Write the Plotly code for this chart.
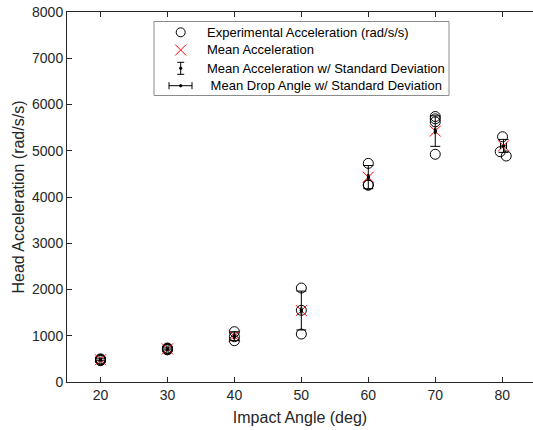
import plotly.graph_objects as go

# ---------------- data ----------------
exp_angle = [20, 20, 20, 20, 20,
             30, 30, 30, 30, 30,
             40, 40, 40,
             50, 50, 50,
             60, 60, 60,
             70, 70, 70, 70,
             80.05, 79.7, 80.6]
exp_accel = [500, 490, 480, 470, 462,
             735, 725, 715, 705, 695,
             1088, 979, 893,
             2032, 1550, 1037,
             4727, 4265, 4255,
             5740, 5690, 5625, 4924,
             5303, 4980, 4886]

mean_angle = [20, 30, 40, 50, 60, 70, 80.2]
mean_accel = [480, 715, 990, 1545, 4430, 5425, 5105]
std_accel = [20, 20, 95, 420, 250, 330, 140]
std_angle = [0.1, 0.1, 0.1, 0.1, 0.1, 0.1, 0.45]

x_ticks = [20, 30, 40, 50, 60, 70, 80]
y_ticks = [0, 1000, 2000, 3000, 4000, 5000, 6000, 7000, 8000]

legend_labels = ["Experimental Acceleration (rad/s/s)",
                 "Mean Acceleration",
                 "Mean Acceleration w/ Standard Deviation",
                 " Mean Drop Angle w/ Standard Deviation"]

FONT = "Liberation Sans, Arial, sans-serif"
AX = "#262626"

W, H = 533, 430
ML, MR, MT, MB = 67, 0, 12, 48
PW, PH = W - ML - MR, H - MT - MB


def px(x):
    return (x - ML) / PW


def py(y):
    return (H - MB - y) / PH


fig = go.Figure()

fig.add_trace(go.Scatter(
    x=exp_angle, y=exp_accel, mode="markers",
    marker=dict(symbol="circle-open", size=10, color="black", line=dict(width=1, color="black")),
    showlegend=False))

fig.add_trace(go.Scatter(
    x=mean_angle, y=mean_accel, mode="markers",
    marker=dict(symbol="x-thin-open", size=11, color="red", line=dict(width=1, color="red")),
    showlegend=False))

fig.add_trace(go.Scatter(
    x=mean_angle, y=mean_accel, mode="markers",
    marker=dict(symbol="circle", size=3, color="black"),
    error_y=dict(type="data", array=std_accel, visible=True, color="black", thickness=1, width=5),
    showlegend=False))

fig.add_trace(go.Scatter(
    x=mean_angle, y=mean_accel, mode="markers",
    marker=dict(symbol="circle", size=3, color="black"),
    error_x=dict(type="data", array=std_angle, visible=True, color="black", thickness=1, width=3),
    showlegend=False))

# ---------------- manual legend ----------------
shapes = []
annotations = []
lx0, ly0, lx1, ly1 = 154, 21.5, 449, 95.5
shapes.append(dict(type="rect", xref="paper", yref="paper",
                   x0=px(lx0), x1=px(lx1), y0=py(ly1), y1=py(ly0),
                   line=dict(color="#8c8c8c", width=1), fillcolor="white", layer="above"))
rows = [32.3, 50.0, 68.3, 85.7]
sx = 180.7
# row 1: open circle
shapes.append(dict(type="circle", xref="paper", yref="paper",
                   x0=px(sx - 4.5), x1=px(sx + 4.5), y0=py(rows[0] + 4.5), y1=py(rows[0] - 4.5),
                   line=dict(color="black", width=1), layer="above"))
# row 2: red x
d = 5.5
for a, b in [(-d, -d), (-d, d)]:
    shapes.append(dict(type="line", xref="paper", yref="paper",
                       x0=px(sx + a), x1=px(sx - a), y0=py(rows[1] + b), y1=py(rows[1] - b),
                       line=dict(color="red", width=1), layer="above"))
# row 3: vertical error bar
r3 = rows[2]
shapes.append(dict(type="line", xref="paper", yref="paper",
                   x0=px(sx), x1=px(sx), y0=py(r3 - 6), y1=py(r3 + 6),
                   line=dict(color="black", width=1), layer="above"))
for yy in (r3 - 6, r3 + 6):
    shapes.append(dict(type="line", xref="paper", yref="paper",
                       x0=px(sx - 3.5), x1=px(sx + 3.5), y0=py(yy), y1=py(yy),
                       line=dict(color="black", width=1), layer="above"))
shapes.append(dict(type="circle", xref="paper", yref="paper",
                   x0=px(sx - 1.2), x1=px(sx + 1.2), y0=py(r3 + 1.2), y1=py(r3 - 1.2),
                   line=dict(color="black", width=1), fillcolor="black", layer="above"))
# row 4: horizontal error bar
r4 = rows[3]
hx0, hx1 = 169, 192
shapes.append(dict(type="line", xref="paper", yref="paper",
                   x0=px(hx0), x1=px(hx1), y0=py(r4), y1=py(r4),
                   line=dict(color="black", width=1), layer="above"))
for xx in (hx0, hx1):
    shapes.append(dict(type="line", xref="paper", yref="paper",
                       x0=px(xx), x1=px(xx), y0=py(r4 - 3.5), y1=py(r4 + 3.5),
                       line=dict(color="black", width=1), layer="above"))
shapes.append(dict(type="circle", xref="paper", yref="paper",
                   x0=px(sx - 1.2), x1=px(sx + 1.2), y0=py(r4 + 1.2), y1=py(r4 - 1.2),
                   line=dict(color="black", width=1), fillcolor="black", layer="above"))

for i, lab in enumerate(legend_labels):
    annotations.append(dict(xref="paper", yref="paper", x=px(205), y=py(rows[i]),
                            xanchor="left", yanchor="middle", showarrow=False, text=lab,
                            font=dict(family=FONT, size=13, color="black")))

fig.update_layout(
    width=W, height=H,
    margin=dict(l=ML, r=MR, t=MT, b=MB, pad=0),
    paper_bgcolor="white", plot_bgcolor="white",
    font=dict(family=FONT, color=AX),
    shapes=shapes, annotations=annotations,
    showlegend=False,
)
fig.update_xaxes(
    range=[15, 84.6], tickvals=x_ticks, ticktext=[str(v) for v in x_ticks],
    ticks="inside", ticklen=5, tickcolor=AX, showline=True, linecolor=AX, linewidth=1,
    mirror="ticks", showgrid=False, zeroline=False,
    tickfont=dict(family=FONT, size=14, color=AX),
    title=dict(text="Impact Angle (deg)", font=dict(family=FONT, size=16, color=AX), standoff=10),
)
fig.update_yaxes(
    range=[0, 8000], tickvals=y_ticks, ticktext=[str(v) for v in y_ticks],
    ticks="inside", ticklen=5, tickcolor=AX, showline=True, linecolor=AX, linewidth=1,
    showgrid=False, zeroline=False,
    tickfont=dict(family=FONT, size=14, color=AX),
    title=dict(text="Head Acceleration (rad/s/s)", font=dict(family=FONT, size=16, color=AX), standoff=3),
)

fig.write_html("out.html")
